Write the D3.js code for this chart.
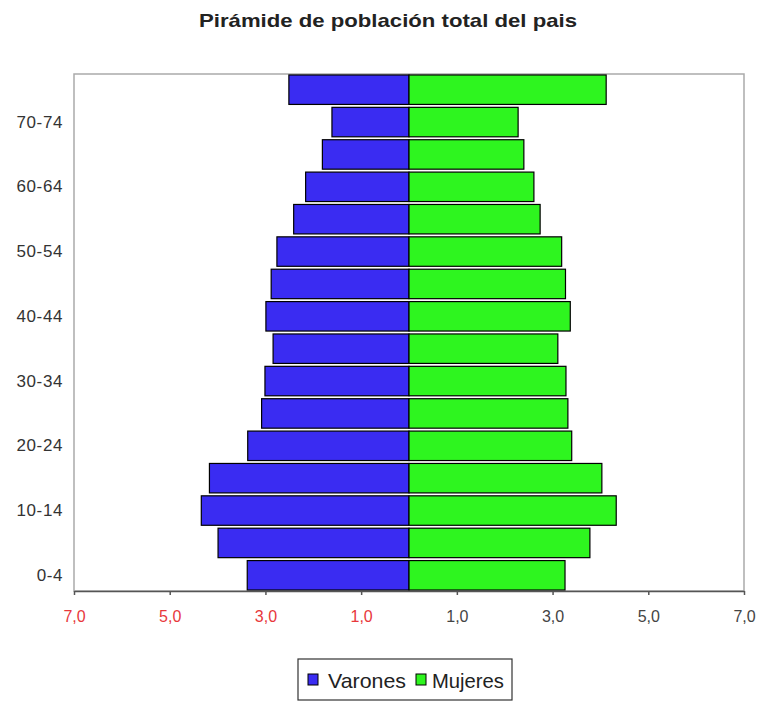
<!DOCTYPE html>
<html><head><meta charset="utf-8">
<script src="https://cdn.jsdelivr.net/npm/d3@7"></script>
<style>body{margin:0;background:#fff}svg{display:block}</style>
</head><body>
<svg id="c" width="761" height="702"></svg>
<script>
const ageGroups = ["0-4","5-9","10-14","15-19","20-24","25-29","30-34","35-39","40-44","45-49","50-54","55-59","60-64","65-69","70-74","75+"];
const varones = [3.38,3.99,4.34,4.17,3.37,3.08,3.01,2.84,2.99,2.88,2.76,2.41,2.16,1.81,1.61,2.51];
const mujeres = [3.26,3.78,4.33,4.03,3.40,3.32,3.28,3.11,3.37,3.27,3.19,2.74,2.61,2.40,2.28,4.12];
const xTicks = [-7,-5,-3,-1,1,3,5,7];
const yTickLabels = ["0-4","10-14","20-24","30-34","40-44","50-54","60-64","70-74"];
const seriesNames = ["Varones","Mujeres"];
const colors = ["#3a2cf2","#2ef51f"];

const svg = d3.select("#c");
const L = 74, R = 744, T = 74, B = 591;
const x = d3.scaleLinear().domain([-7,7]).range([L,R]);
const y = d3.scaleBand().domain(ageGroups.slice().reverse()).range([T,B]).paddingInner(0.09).paddingOuter(0.03);

// title
svg.append("text").attr("x",388).attr("y",27).attr("text-anchor","middle")
  .attr("font-family","Liberation Sans, Arial, sans-serif").attr("font-weight","bold")
  .attr("font-size",19).attr("textLength",378).attr("lengthAdjust","spacingAndGlyphs")
  .attr("fill","#222").text("Pirámide de población total del pais");

// plot frame
svg.append("rect").attr("x",L).attr("y",T).attr("width",R-L).attr("height",B-T)
  .attr("fill","#fff").attr("stroke","#aaa").attr("stroke-width",1.5);

// bars
svg.append("g").selectAll("rect").data(ageGroups).join("rect")
  .attr("x",(d,i)=>x(-varones[i])).attr("y",d=>y(d))
  .attr("width",(d,i)=>x(0)-x(-varones[i])).attr("height",y.bandwidth())
  .attr("fill",colors[0]).attr("stroke","#000").attr("stroke-width",1.2);
svg.append("g").selectAll("rect").data(ageGroups).join("rect")
  .attr("x",x(0)).attr("y",d=>y(d))
  .attr("width",(d,i)=>x(mujeres[i])-x(0)).attr("height",y.bandwidth())
  .attr("fill",colors[1]).attr("stroke","#000").attr("stroke-width",1.2);

// x axis
const fmt = d => d3.format(".1f")(Math.abs(d)).replace(".",",");
const xa = svg.append("g").attr("transform",`translate(0,${B})`)
  .call(d3.axisBottom(x).tickValues(xTicks).tickFormat(fmt).tickSize(4).tickPadding(16).tickSizeOuter(0));
xa.select(".domain").attr("stroke","#555").attr("stroke-width",1.5);
xa.selectAll(".tick line").attr("stroke","#555").attr("stroke-width",1.5);
xa.selectAll("text").attr("font-family","Liberation Sans, Arial, sans-serif").attr("font-size",16)
  .attr("fill",d=>d<0?"#e8383c":"#444");

// y axis
const ya = svg.append("g").attr("transform",`translate(${L},0)`)
  .call(d3.axisLeft(y).tickValues(yTickLabels).tickSize(0).tickPadding(11));
ya.select(".domain").remove();
ya.selectAll("text").attr("font-family","Liberation Sans, Arial, sans-serif").attr("font-size",17)
  .attr("letter-spacing","0.6px").attr("fill","#333");

// legend
const lg = svg.append("g");
lg.append("rect").attr("x",298).attr("y",659).attr("width",214).attr("height",41)
  .attr("fill","#fff").attr("stroke","#333").attr("stroke-width",1.2);
const items = [{n:seriesNames[0],c:colors[0],sx:308,tx:328},{n:seriesNames[1],c:colors[1],sx:416,tx:432}];
items.forEach(it=>{
  lg.append("rect").attr("x",it.sx).attr("y",674).attr("width",10).attr("height",11)
    .attr("fill",it.c).attr("stroke","#000").attr("stroke-width",1);
  lg.append("text").attr("x",it.tx).attr("y",688).attr("font-family","Liberation Sans, Arial, sans-serif")
    .attr("font-size",21).attr("textLength",it.n==="Varones"?78:72).attr("lengthAdjust","spacingAndGlyphs")
    .attr("fill","#222").text(it.n);
});
</script>
</body></html>
